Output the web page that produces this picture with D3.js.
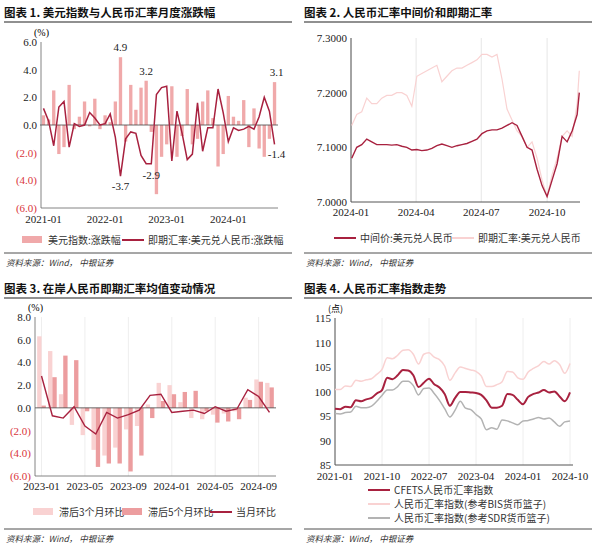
<!DOCTYPE html>
<html><head><meta charset="utf-8">
<script src="https://cdn.jsdelivr.net/npm/d3@7"></script>
<style>body{margin:0;background:#fff}svg{display:block}</style>
</head><body><svg id="c" width="600" height="552"></svg>
<script>
// ---------- DATA ----------
const p1Months = d3.range(46); // 2021-01 .. 2024-10
const p1Ticks = ["2021-01","2022-01","2023-01","2024-01"];
const dxyChg = [0.7,0.4,2.5,-2.1,-1.6,2.9,-0.3,0.6,1.7,-0.1,1.9,-0.3,
 0.7,0.2,1.7,4.9,-1.2,2.9,1.1,2.7,3.2,-0.5,-5.0,-2.3,
 -1.4,2.8,-2.3,-0.8,2.6,-1.4,-1.0,1.7,2.5,0.5,-3.0,-2.1,
 2.1,0.6,0.3,1.8,-1.6,1.2,-1.7,-2.3,-1.0,3.1];
const spotChg = [1.2,0.3,-1.5,1.3,1.7,-1.6,0.1,-0.1,0.0,0.9,0.5,0.0,
 0.1,0.8,-0.9,-3.7,-1.0,-0.5,-0.6,-2.2,-2.8,-2.8,2.2,2.7,
 2.8,-2.6,1.0,-0.6,-2.5,-2.1,1.6,-1.9,-0.2,-0.2,2.6,0.9,
 -1.2,-0.2,-0.4,-0.3,-0.1,-0.3,0.6,2.0,1.0,-1.4];
const p1Labels = [[15,4.9,"4.9"],[20,3.2,"3.2"],[45,3.1,"3.1"],[15,-3.7,"-3.7"],[21,-2.9,"-2.9"],[45,-1.4,"-1.4"]];

const p2Dates = ["2024-01-02","2024-01-09","2024-01-16","2024-01-23","2024-01-30","2024-02-06","2024-02-13","2024-02-20","2024-02-27","2024-03-05","2024-03-12","2024-03-19","2024-03-26","2024-04-02","2024-04-09","2024-04-16","2024-04-23","2024-04-30","2024-05-07","2024-05-14","2024-05-21","2024-05-28","2024-06-04","2024-06-11","2024-06-18","2024-06-25","2024-07-02","2024-07-09","2024-07-16","2024-07-23","2024-07-30","2024-08-06","2024-08-13","2024-08-20","2024-08-27","2024-09-03","2024-09-10","2024-09-17","2024-09-24","2024-10-01","2024-10-08","2024-10-15","2024-10-22","2024-10-29","2024-11-05","2024-11-12","2024-11-15"];
const midRate = [7.08,7.10,7.105,7.115,7.11,7.105,7.105,7.105,7.104,7.105,7.102,7.100,7.095,7.096,7.094,7.095,7.098,7.103,7.106,7.103,7.100,7.103,7.105,7.107,7.111,7.115,7.125,7.130,7.132,7.132,7.135,7.140,7.145,7.140,7.120,7.100,7.095,7.060,7.030,7.010,7.040,7.070,7.120,7.110,7.130,7.160,7.200];
const spotRate = [7.14,7.16,7.165,7.19,7.18,7.18,7.19,7.195,7.195,7.20,7.20,7.195,7.175,7.23,7.235,7.24,7.245,7.25,7.22,7.23,7.24,7.245,7.245,7.25,7.255,7.26,7.27,7.27,7.265,7.27,7.225,7.17,7.15,7.13,7.12,7.10,7.11,7.08,7.04,7.01,7.05,7.08,7.12,7.13,7.12,7.18,7.24];
const p2Ticks = ["2024-01","2024-04","2024-07","2024-10"];

const p3Months = ["2023-01","2023-02","2023-03","2023-04","2023-05","2023-06","2023-07","2023-08","2023-09","2023-10","2023-11","2023-12","2024-01","2024-02","2024-03","2024-04","2024-05","2024-06","2024-07","2024-08","2024-09","2024-10"];
const lag3 = [6.3,5.0,1.2,-1.5,-2.4,-3.7,-4.2,-3.5,-1.9,-1.6,0.3,2.2,2.0,0.5,-0.9,-1.0,-0.6,-0.5,-0.3,0.9,2.5,2.2];
const lag5 = [0.2,2.7,4.6,4.2,-0.3,-5.2,-4.9,-4.9,-5.6,-4.2,-0.9,0.6,1.2,1.4,1.5,-0.3,-1.3,-1.2,-1.0,0.7,2.3,1.8];
const curMoM = [2.8,-0.7,-0.9,0.1,-1.6,-2.3,-0.4,-0.9,-0.6,-0.2,1.1,1.2,-0.4,-0.3,-0.2,-0.5,0.1,-0.3,-0.1,1.6,1.0,-0.4];
const p3Ticks = ["2023-01","2023-05","2023-09","2024-01","2024-05","2024-09"];

const p4Ticks = ["2021-01","2021-10","2022-07","2023-04","2024-01","2024-10"];
const cfets = [96.5,96.4,96.9,96.8,98.2,98.0,98.4,98.7,99.6,100.3,102.8,102.5,
 103.3,104.4,104.3,103.3,100.9,101.8,102.6,101.5,100.8,99.5,97.1,98.7,
 99.9,99.9,99.8,99.7,99.3,98.2,96.7,96.7,97.1,99.5,99.3,98.3,
 97.4,98.9,99.5,99.8,100.3,99.8,100.0,99.0,98.0,99.8];
const bis = [100.4,100.4,101.1,101.0,102.3,102.1,102.4,102.6,103.5,104.5,106.9,106.7,
 107.4,108.4,108.5,107.6,105.6,107.6,107.9,107.0,106.5,105.2,102.3,103.8,
 105.0,104.7,104.4,104.1,103.2,101.0,101.0,101.4,102.0,104.1,104.0,102.8,
 102.5,104.0,104.7,105.3,106.1,105.6,106.3,105.5,103.7,105.7];
const sdr = [95.5,95.4,95.7,95.8,97.0,96.7,96.7,97.0,98.0,99.2,100.3,100.3,
 101.0,102.1,102.1,101.2,99.3,100.6,100.7,99.6,98.2,96.5,94.8,96.2,
 98.0,96.6,96.3,95.3,94.4,92.2,92.6,92.3,94.2,94.0,93.6,93.2,
 94.0,94.1,94.4,94.7,94.4,94.6,93.8,92.9,93.8,94.0];

// ---------- STYLE ----------
const DR="#a8213f", PINK="#f0a9aa", LP="#f9d2d2", MP="#ec9d9f", GR="#b3b3b3", NEG="#d9343a";
const SERIF="'Liberation Serif','DejaVu Serif',serif", CJK="'Noto Sans CJK SC',sans-serif";
const svg=d3.select("#c");

function frame(x0,y0,title){
  svg.append("text").attr("x",x0+4).attr("y",y0+17).attr("font-family",CJK).attr("font-weight","bold").attr("font-size",11.5).attr("fill","#111").text(title);
  svg.append("line").attr("x1",x0+4).attr("x2",x0+292).attr("y1",y0+22).attr("y2",y0+22).attr("stroke","#222").attr("stroke-width",1.2);
  svg.append("line").attr("x1",x0+4).attr("x2",x0+292).attr("y1",y0+253).attr("y2",y0+253).attr("stroke","#222").attr("stroke-width",0.8);
  const s=svg.append("text").attr("x",x0+6).attr("y",y0+266).attr("font-family",CJK).attr("font-style","italic").attr("font-size",8.5).attr("fill","#333");
  s.text("资料来源：Wind，  中银证券");
}
function yAxis(g,y,ticks,fmt,x){
  ticks.forEach(t=>{
    g.append("text").attr("x",x-4).attr("y",y(t)+4).attr("text-anchor","end").attr("font-family",SERIF).attr("font-size",11)
     .attr("fill",t<0?NEG:"#222").text(fmt(t));
  });
}
function legItem(x,y,type,color,label){
  if(type==="rect") svg.append("rect").attr("x",x).attr("y",y-4).attr("width",20).attr("height",7).attr("fill",color);
  else svg.append("line").attr("x1",x).attr("x2",x+22).attr("y1",y).attr("y2",y).attr("stroke",color).attr("stroke-width",2);
  svg.append("text").attr("x",x+26).attr("y",y+4).attr("font-family",CJK).attr("font-size",10).attr("fill","#333").text(label);
}
const pfmt=t=>t<0?"("+Math.abs(t).toFixed(1)+")":t.toFixed(1);

// ---------- PANEL 1 ----------
frame(0,0,"图表 1. 美元指数与人民币汇率月度涨跌幅");
{
 const x=d3.scaleBand().domain(p1Months).range([40,278]).padding(0.35);
 const y=d3.scaleLinear().domain([-6,6]).range([208,42]);
 const g=svg.append("g");
 g.selectAll("rect").data(dxyChg).join("rect").attr("x",(d,i)=>x(i)).attr("width",x.bandwidth())
  .attr("y",d=>y(Math.max(0,d))).attr("height",d=>Math.abs(y(d)-y(0))).attr("fill",PINK);
 g.append("line").attr("x1",40).attr("x2",278).attr("y1",y(0)).attr("y2",y(0)).attr("stroke","#444").attr("stroke-width",0.8);
 g.append("line").attr("x1",41).attr("x2",41).attr("y1",42).attr("y2",208).attr("stroke","#666").attr("stroke-width",0.8);
 g.append("line").attr("x1",41).attr("x2",278).attr("y1",208).attr("y2",208).attr("stroke","#666").attr("stroke-width",0.8);
 g.append("path").datum(spotChg).attr("fill","none").attr("stroke",DR).attr("stroke-width",1.5)
  .attr("d",d3.line().x((d,i)=>x(i)+x.bandwidth()/2).y(d=>y(d)));
 yAxis(g,y,[6,4,2,0,-2,-4,-6],pfmt,41);
 g.append("text").attr("x",34).attr("y",36).attr("font-family",SERIF).attr("font-size",10).text("(%)");
 p1Ticks.forEach((t,k)=>g.append("text").attr("x",x(k*12)+x.bandwidth()/2).attr("y",223).attr("text-anchor","middle").attr("font-family",SERIF).attr("font-size",11).attr("fill","#222").text(t));
 p1Labels.forEach(([i,v,t])=>g.append("text").attr("x",x(i)+x.bandwidth()/2+(i===45?2:0)).attr("y",v>0?y(v)-6:y(v)+14).attr("text-anchor","middle").attr("font-family",SERIF).attr("font-size",11).attr("fill","#222").text(t));
 legItem(22,240,"rect",PINK,"美元指数:涨跌幅");
 legItem(122,240,"line",DR,"即期汇率:美元兑人民币:涨跌幅");
}

// ---------- PANEL 2 ----------
frame(300,0,"图表 2. 人民币汇率中间价和即期汇率");
{
 const pd=d3.timeParse("%Y-%m-%d"), pm=d3.timeParse("%Y-%m");
 const x=d3.scaleTime().domain([pm("2024-01"),pd("2024-11-16")]).range([351,580]);
 const y=d3.scaleLinear().domain([7.0,7.3]).range([202,38]);
 const g=svg.append("g");
 p2Ticks.forEach(t=>g.append("line").attr("x1",x(pm(t))).attr("x2",x(pm(t))).attr("y1",38).attr("y2",202).attr("stroke","#e6e6e6"));
 g.append("line").attr("x1",351).attr("x2",580).attr("y1",202).attr("y2",202).attr("stroke","#555");
 g.append("line").attr("x1",351).attr("x2",351).attr("y1",38).attr("y2",202).attr("stroke","#555");
 [7.0,7.1,7.2,7.3].forEach(t=>g.append("text").attr("x",347).attr("y",y(t)+4).attr("text-anchor","end").attr("font-family",SERIF).attr("font-size",11).attr("fill","#222").text(t.toFixed(4)));
 p2Ticks.forEach(t=>g.append("text").attr("x",x(pm(t))).attr("y",216).attr("text-anchor","middle").attr("font-family",SERIF).attr("font-size",11).attr("fill","#222").text(t));
 const ln=arr=>d3.line().x((d,i)=>x(pd(p2Dates[i]))).y(d=>y(d))(arr);
 g.append("path").attr("d",ln(spotRate)).attr("fill","none").attr("stroke",LP).attr("stroke-width",1.2);
 g.append("path").attr("d",ln(midRate)).attr("fill","none").attr("stroke",DR).attr("stroke-width",1.4);
 legItem(334,238,"line",DR,"中间价:美元兑人民币");
 legItem(452,238,"line",LP,"即期汇率:美元兑人民币");
}

// ---------- PANEL 3 ----------
frame(0,276,"图表 3. 在岸人民币即期汇率均值变动情况");
{
 const x=d3.scaleBand().domain(p3Months).range([35,276]).padding(0.2);
 const y=d3.scaleLinear().domain([-6,8]).range([476,317]);
 const g=svg.append("g");
 p3Ticks.forEach(t=>g.append("line").attr("x1",x(t)+x.bandwidth()/2).attr("x2",x(t)+x.bandwidth()/2).attr("y1",317).attr("y2",476).attr("stroke","#eee"));
 const bw=x.bandwidth()/2;
 g.selectAll(".a").data(lag3).join("rect").attr("x",(d,i)=>x(p3Months[i])).attr("width",bw)
  .attr("y",d=>y(Math.max(0,d))).attr("height",d=>Math.abs(y(d)-y(0))).attr("fill",LP);
 g.selectAll(".b").data(lag5).join("rect").attr("x",(d,i)=>x(p3Months[i])+bw).attr("width",bw)
  .attr("y",d=>y(Math.max(0,d))).attr("height",d=>Math.abs(y(d)-y(0))).attr("fill",MP);
 g.append("line").attr("x1",35).attr("x2",276).attr("y1",y(0)).attr("y2",y(0)).attr("stroke","#444").attr("stroke-width",0.8);
 g.append("line").attr("x1",35).attr("x2",35).attr("y1",317).attr("y2",476).attr("stroke","#666").attr("stroke-width",0.8);
 g.append("line").attr("x1",35).attr("x2",276).attr("y1",476).attr("y2",476).attr("stroke","#666").attr("stroke-width",0.8);
 g.append("path").datum(curMoM).attr("fill","none").attr("stroke",DR).attr("stroke-width",1.4)
  .attr("d",d3.line().x((d,i)=>x(p3Months[i])+bw).y(d=>y(d)));
 yAxis(g,y,[8,6,4,2,0,-2,-4,-6],pfmt,35);
 g.append("text").attr("x",28).attr("y",311).attr("font-family",SERIF).attr("font-size",10).text("(%)");
 p3Ticks.forEach(t=>g.append("text").attr("x",x(t)+x.bandwidth()/2).attr("y",490).attr("text-anchor","middle").attr("font-family",SERIF).attr("font-size",11).attr("fill","#222").text(t));
 legItem(33,512,"rect",LP,"滞后3个月环比");
 legItem(122,512,"rect",MP,"滞后5个月环比");
 legItem(210,512,"line",DR,"当月环比");
}

// ---------- PANEL 4 ----------
frame(300,276,"图表 4. 人民币汇率指数走势");
{
 const x=d3.scaleLinear().domain([0,45]).range([335,570]);
 const y=d3.scaleLinear().domain([85,115]).range([465,318]);
 const g=svg.append("g");
 p4Ticks.forEach((t,k)=>g.append("line").attr("x1",x(k*9)).attr("x2",x(k*9)).attr("y1",318).attr("y2",465).attr("stroke","#eee"));
 g.append("line").attr("x1",335).attr("x2",573).attr("y1",465).attr("y2",465).attr("stroke","#555");
 g.append("line").attr("x1",335).attr("x2",335).attr("y1",318).attr("y2",465).attr("stroke","#555");
 [85,90,95,100,105,110,115].forEach(t=>g.append("text").attr("x",331).attr("y",y(t)+4).attr("text-anchor","end").attr("font-family",SERIF).attr("font-size",11).attr("fill","#222").text(t));
 g.append("text").attr("x",328).attr("y",312).attr("font-family",CJK).attr("font-size",9).text("(点)");
 p4Ticks.forEach((t,k)=>g.append("text").attr("x",x(k*9)).attr("y",480).attr("text-anchor","middle").attr("font-family",SERIF).attr("font-size",11).attr("fill","#222").text(t));
 const ln=d3.line().x((d,i)=>x(i)).y(d=>y(d)).curve(d3.curveMonotoneX);
 g.append("path").attr("d",ln(bis)).attr("fill","none").attr("stroke",LP).attr("stroke-width",1.5);
 g.append("path").attr("d",ln(sdr)).attr("fill","none").attr("stroke",GR).attr("stroke-width",1.5);
 g.append("path").attr("d",ln(cfets)).attr("fill","none").attr("stroke",DR).attr("stroke-width",2);
 legItem(368,490,"line",DR,"CFETS人民币汇率指数");
 legItem(368,504,"line",LP,"人民币汇率指数(参考BIS货币篮子)");
 legItem(368,518,"line",GR,"人民币汇率指数(参考SDR货币篮子)");
}
</script></body></html>
